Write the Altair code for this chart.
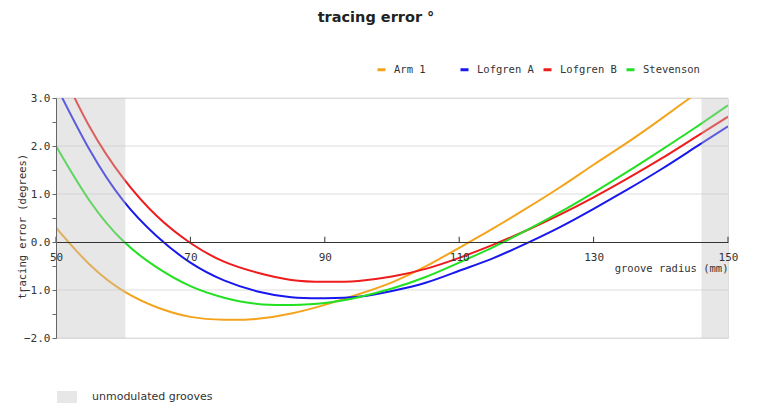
import altair as alt
import pandas as pd

# ---- data ----
radius = [50, 55, 60, 65, 70, 75, 80, 85, 90, 95, 100, 105, 110, 115, 120, 125, 130, 135, 140, 145, 150]
arm1 = [0.30, -0.47, -1.02, -1.36, -1.56, -1.62, -1.60, -1.49, -1.31, -1.09, -0.84, -0.51, -0.12, 0.28, 0.70, 1.14, 1.61, 2.07, 2.56, 3.07, 3.58]
lofgren_a = [3.26, 1.92, 0.86, 0.12, -0.43, -0.80, -1.03, -1.15, -1.17, -1.14, -1.02, -0.85, -0.60, -0.34, -0.03, 0.31, 0.69, 1.09, 1.51, 1.96, 2.41]
lofgren_b = [3.80, 2.40, 1.33, 0.54, -0.02, -0.41, -0.64, -0.79, -0.83, -0.81, -0.72, -0.56, -0.33, -0.06, 0.24, 0.57, 0.93, 1.32, 1.73, 2.17, 2.61]
stevenson = [2.00, 0.86, 0.02, -0.53, -0.92, -1.16, -1.29, -1.31, -1.27, -1.15, -0.97, -0.73, -0.43, -0.11, 0.24, 0.62, 1.03, 1.46, 1.91, 2.37, 2.85]

series_names = ["Arm 1", "Lofgren A", "Lofgren B", "Stevenson"]
series_colors = ["#f4a41c", "#1818ee", "#ee1c1c", "#22e022"]

unmod_label = ["unmodulated grooves", "unmodulated grooves"]
unmod_start = [50, 146.05]
unmod_end = [60.325, 150]

x_ticks = [50, 70, 90, 110, 130, 150]
y_ticks = [-2.0, -1.5, -1.0, -0.5, 0.0, 0.5, 1.0, 1.5, 2.0, 2.5, 3.0]
grid_values = [-2, -1, 1, 2, 3]

# ---- tables ----
rows = []
for name, vals in zip(series_names, [arm1, lofgren_a, lofgren_b, stevenson]):
    for r, v in zip(radius, vals):
        rows.append({"radius": r, "error": v, "series": name})
curves = pd.DataFrame(rows)
unmod = pd.DataFrame({"radius": unmod_start, "radius_end": unmod_end, "zone": unmod_label})
ticks = pd.DataFrame({"radius": x_ticks, "y0": [0.0] * len(x_ticks), "y1": [0.11] * len(x_ticks)})
grid = pd.DataFrame({"error": grid_values})

MONO = "DejaVu Sans Mono"
xscale = alt.Scale(domain=[50, 150], nice=False, zero=False)
yscale = alt.Scale(domain=[-2, 3], nice=False, zero=False)

xaxis = alt.Axis(
    values=x_ticks, offset=-96, tickSize=0, domainColor="#333333", domainWidth=1,
    labelFont=MONO, labelFontSize=11, labelColor="#333333", labelPadding=9, labelFlush=False,
    title="groove radius (mm)", titleAnchor="end", titleAlign="right", titleFont=MONO,
    titleFontSize=10.5, titleFontWeight="normal", titleColor="#333333", titlePadding=1,
    grid=False, zindex=2,
)
yaxis = alt.Axis(
    values=y_ticks, labelExpr="datum.value % 1 == 0 ? format(datum.value, '.1f') : ''",
    tickSize=4, tickColor="#666666", domainColor="#666666",
    labelFont=MONO, labelFontSize=11, labelColor="#333333", labelPadding=2,
    title="tracing error (degrees)", titleFont=MONO, titleFontSize=10.5, titleFontWeight="normal",
    titleColor="#333333", titleX=-34, titleY=128, titleAngle=270, titleAlign="center",
    titleBaseline="middle", grid=False, zindex=2,
)

grid_layer = alt.Chart(grid).mark_rule(color="#dddddd", strokeWidth=1).encode(
    y=alt.Y("error:Q", scale=yscale, axis=yaxis),
)

lines = alt.Chart(curves).mark_line(strokeWidth=2, clip=True, interpolate="natural").encode(
    x=alt.X("radius:Q", scale=xscale, axis=xaxis),
    y=alt.Y("error:Q", scale=yscale, axis=yaxis),
    stroke=alt.Stroke(
        "series:N",
        scale=alt.Scale(domain=series_names, range=series_colors),
        legend=alt.Legend(
            orient="none", legendX=320, legendY=-34, direction="horizontal", columns=4,
            gridAlign="all", title=None, symbolType="stroke", symbolSize=64, symbolStrokeWidth=3,
            labelFont=MONO, labelFontSize=10.5, labelColor="#333333", labelOffset=7,
            columnPadding=3,
        ),
    ),
)

shade = alt.Chart(unmod).mark_rect(opacity=0.4).encode(
    x=alt.X("radius:Q", scale=xscale, axis=xaxis),
    x2="radius_end:Q",
    fill=alt.Fill(
        "zone:N",
        scale=alt.Scale(domain=["unmodulated grooves"], range=["#c4c4c4"]),
        legend=alt.Legend(
            orient="none", legendX=1, legendY=289, title=None,
            symbolType="M-1,-0.6H1V0.6H-1Z", symbolSize=400, symbolStrokeWidth=0,
            symbolOpacity=0.4, labelFont="DejaVu Sans", labelFontSize=11, labelColor="#333333",
            labelOffset=15,
        ),
    ),
)

tick_layer = alt.Chart(ticks).mark_rule(color="#333333", strokeWidth=1).encode(
    x=alt.X("radius:Q", scale=xscale, axis=xaxis),
    y=alt.Y("y0:Q", scale=yscale, axis=yaxis),
    y2="y1:Q",
)

chart = alt.layer(grid_layer, lines, shade, tick_layer).properties(
    width=672, height=240,
    padding={"left": 48, "top": 90, "right": 16, "bottom": 66},
    autosize=alt.AutoSizeParams(type="none"),
    title=alt.TitleParams(
        "tracing error °", font="DejaVu Sans", fontSize=14.5, fontWeight="bold", color="#222222",
        anchor="middle", frame="group", dx=-16, offset=28, baseline="alphabetic",
    ),
).configure_view(stroke=None).configure(background="white")

chart.save("out.html", embed_options={"renderer": "svg", "actions": False})
